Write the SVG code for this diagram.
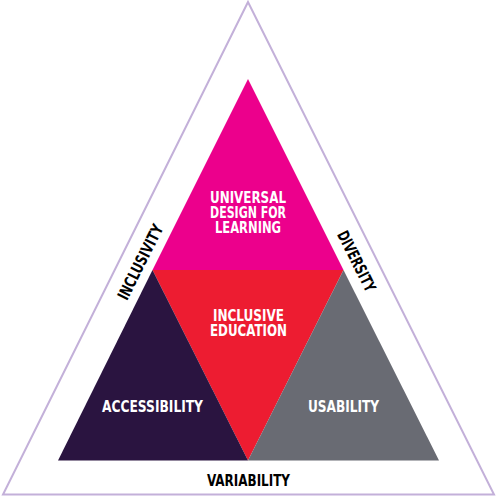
<svg xmlns="http://www.w3.org/2000/svg" width="497" height="497" viewBox="0 0 497 497">
<style>
.lbl{font-family:"DejaVu Sans","Liberation Sans",sans-serif;font-weight:bold;font-stretch:condensed;font-size:16px;text-anchor:middle}
.w{fill:#ffffff}
.k{fill:#000000}
</style>
<rect width="497" height="497" fill="#ffffff"/>
<g id="outer">
<polygon points="248,2 3,494.5 494,494.5" fill="none" stroke="#c3b0d9" stroke-width="2"/>
</g>
<g id="udl">
<polygon points="248,79 152.5,270 343.5,270" fill="#ec008c"/>
<text class="lbl w" x="248" y="203" textLength="76" lengthAdjust="spacingAndGlyphs">UNIVERSAL</text>
<text class="lbl w" x="248" y="218" textLength="76" lengthAdjust="spacingAndGlyphs">DESIGN FOR</text>
<text class="lbl w" x="248" y="233" textLength="66" lengthAdjust="spacingAndGlyphs">LEARNING</text>
</g>
<g id="inclusive-education">
<polygon points="152.5,270 343.5,270 248,460.5" fill="#ed1c31"/>
<text class="lbl w" x="248.5" y="321" textLength="71" lengthAdjust="spacingAndGlyphs">INCLUSIVE</text>
<text class="lbl w" x="248.5" y="336" textLength="77" lengthAdjust="spacingAndGlyphs">EDUCATION</text>
</g>
<g id="accessibility">
<polygon points="152.5,270 58,460.5 248,460.5" fill="#2a1440"/>
<text class="lbl w" x="152.5" y="412" textLength="101" lengthAdjust="spacingAndGlyphs">ACCESSIBILITY</text>
</g>
<g id="usability">
<polygon points="343.5,270 248,460.5 439,460.5" fill="#696b73"/>
<text class="lbl w" x="343.5" y="412" textLength="71" lengthAdjust="spacingAndGlyphs">USABILITY</text>
</g>
<g id="inclusivity">
<text class="lbl k" transform="translate(140,262) rotate(-63.43)" x="0" y="6" textLength="82" lengthAdjust="spacingAndGlyphs">INCLUSIVITY</text>
</g>
<g id="diversity">
<text class="lbl k" transform="translate(357,261) rotate(63.43)" x="0" y="6" textLength="66" lengthAdjust="spacingAndGlyphs">DIVERSITY</text>
</g>
<g id="variability">
<text class="lbl k" x="248.5" y="486" textLength="83" lengthAdjust="spacingAndGlyphs">VARIABILITY</text>
</g>
<g id="connectors"></g>
</svg>
